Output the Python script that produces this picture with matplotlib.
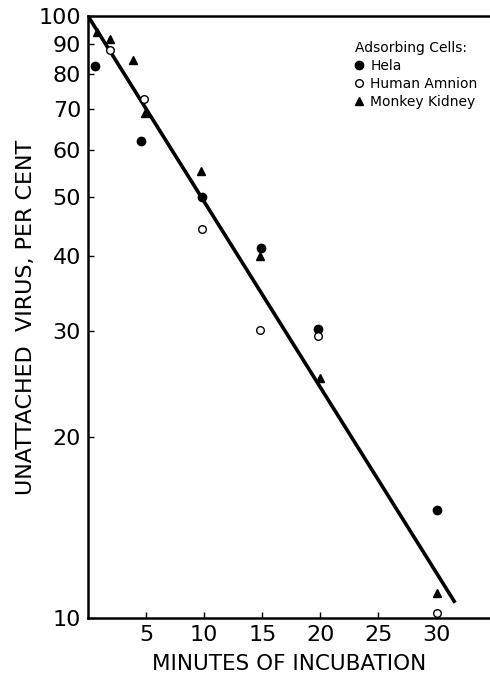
import matplotlib
matplotlib.use("Agg")
import matplotlib.pyplot as plt
from matplotlib.ticker import FixedLocator, NullLocator, FixedFormatter

hela_x = [0.6, 4.6, 9.8, 14.9, 19.8, 30]
hela_y = [82.6, 62, 50, 41.2, 30.2, 15.1]
amnion_x = [1.9, 4.8, 9.8, 14.8, 19.8, 30]
amnion_y = [87.8, 72.8, 44.3, 30.1, 29.4, 10.2]
monkey_x = [0.8, 1.9, 3.9, 4.9, 9.7, 14.8, 20, 30]
monkey_y = [94, 91.6, 84.5, 69, 55.3, 40.0, 25.0, 11.0]
fit_x = [0, 31.6]
fit_y = [100, 10.6]

x_ticks = [5, 10, 15, 20, 25, 30]
y_ticks = [10, 20, 30, 40, 50, 60, 70, 80, 90, 100]

plt.rcParams['font.family'] = ['DejaVu Sans']
fig = plt.figure(figsize=(4.9, 6.79), dpi=100)
ax = fig.add_axes([88/490, 1-618/679, (490-88)/490, (618-16)/679])

ax.plot(fit_x, fit_y, color='black', lw=2.6, solid_capstyle='butt')
ax.plot(hela_x, hela_y, 'o', color='black', ms=6, ls='none', label='Hela')
ax.plot(amnion_x, amnion_y, 'o', mfc='white', mec='black', mew=1.0, ms=5.5, ls='none', label='Human Amnion')
ax.plot(monkey_x, monkey_y, '^', color='black', ms=6, ls='none', label='Monkey Kidney')

ax.set_yscale('log')
ax.set_ylim(10, 100)
ax.set_xlim(0, 34.6)
ax.yaxis.set_major_locator(FixedLocator(y_ticks))
ax.yaxis.set_major_formatter(FixedFormatter([str(v) for v in y_ticks]))
ax.yaxis.set_minor_locator(NullLocator())
ax.set_xticks(x_ticks)
ax.set_xticklabels([str(v) for v in x_ticks])

ax.spines['right'].set_visible(False)
for s in ['left', 'bottom', 'top']:
    ax.spines[s].set_linewidth(1.8)
ax.tick_params(axis='both', direction='in', length=4, width=1.0, labelsize=16, pad=5)

ax.set_ylabel('UNATTACHED  VIRUS, PER CENT', fontsize=16, labelpad=2)
ax.set_xlabel('MINUTES OF INCUBATION', fontsize=15.5, labelpad=6.5)

leg = ax.legend(loc='upper left', bbox_to_anchor=(0.64, 0.975), frameon=False,
                title='Adsorbing Cells:', fontsize=10, title_fontsize=10,
                handlelength=0.6, handletextpad=0.5, borderpad=0.2, labelspacing=0.3,
                alignment='left')

fig.savefig('out.png', dpi=100)
